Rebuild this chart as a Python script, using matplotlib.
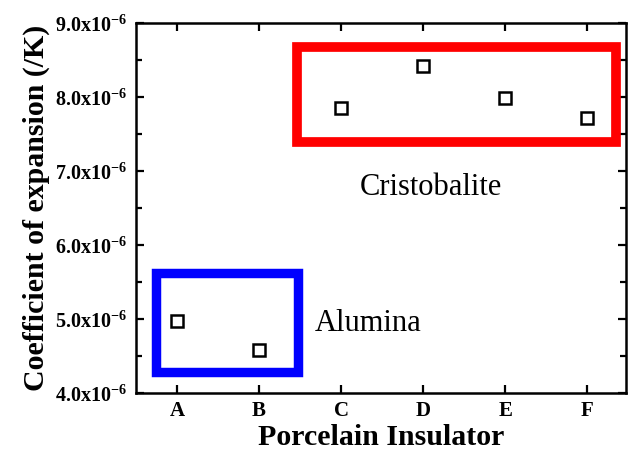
import numpy as np
import matplotlib.pyplot as plt
from matplotlib.patches import Rectangle

plt.rcParams["font.family"] = ["Liberation Serif", "DejaVu Serif"]
plt.rcParams["mathtext.fontset"] = "custom"
plt.rcParams["mathtext.rm"] = "Liberation Serif:bold"
plt.rcParams["mathtext.bf"] = "Liberation Serif:bold"

insulators = ["A", "B", "C", "D", "E", "F"]
expansion = [4.98, 4.58, 7.86, 8.42, 7.99, 7.72]  # x1e-6 /K
y_ticks = [4.0, 5.0, 6.0, 7.0, 8.0, 9.0]
y_ticklabels = [r"%.1fx10$^{-6}$" % v for v in y_ticks]

fig = plt.figure(figsize=(6.29, 4.54), dpi=100)
ax = fig.add_axes([0.216, 0.134, 0.779, 0.815])

x = np.arange(1, len(insulators) + 1)
ax.plot(x, expansion, ls="none", marker="s", ms=8.5, mfc="white",
        mec="black", mew=1.8, zorder=5)

# group boxes
ax.add_patch(Rectangle((2.46, 7.39), 6.35 - 2.46, 8.68 - 7.39, fill=False,
                       ec="#ff0000", lw=7, zorder=3))
ax.add_patch(Rectangle((0.75, 4.28), 2.47 - 0.75, 5.63 - 4.28, fill=False,
                       ec="#0000ff", lw=6.8, zorder=3))
ax.text(4.09, 6.78, "Cristobalite", ha="center", va="center", fontsize=22)
ax.text(2.68, 4.94, "Alumina", ha="left", va="center", fontsize=22)

ax.set_xlim(0.5, 6.47)
ax.set_ylim(4.0, 9.0)
ax.set_xticks(x)
ax.set_xticklabels(insulators, fontweight="bold", fontsize=15)
ax.set_yticks(y_ticks)
ax.set_yticklabels(y_ticklabels, fontweight="bold", fontsize=14.5)
ax.set_yticks(np.arange(4.5, 9.0, 1.0), minor=True)
ax.tick_params(which="both", direction="in", top=True, right=True, width=1.6)
ax.tick_params(which="major", length=6, pad=6)
ax.tick_params(which="minor", length=4)
for s in ax.spines.values():
    s.set_linewidth(1.8)

ax.set_xlabel("Porcelain Insulator", fontsize=21.5, fontweight="bold", labelpad=2)
ax.set_ylabel("Coefficient of expansion (/K)", fontsize=21.5, fontweight="bold", labelpad=4)

fig.savefig("out.png", dpi=100)
